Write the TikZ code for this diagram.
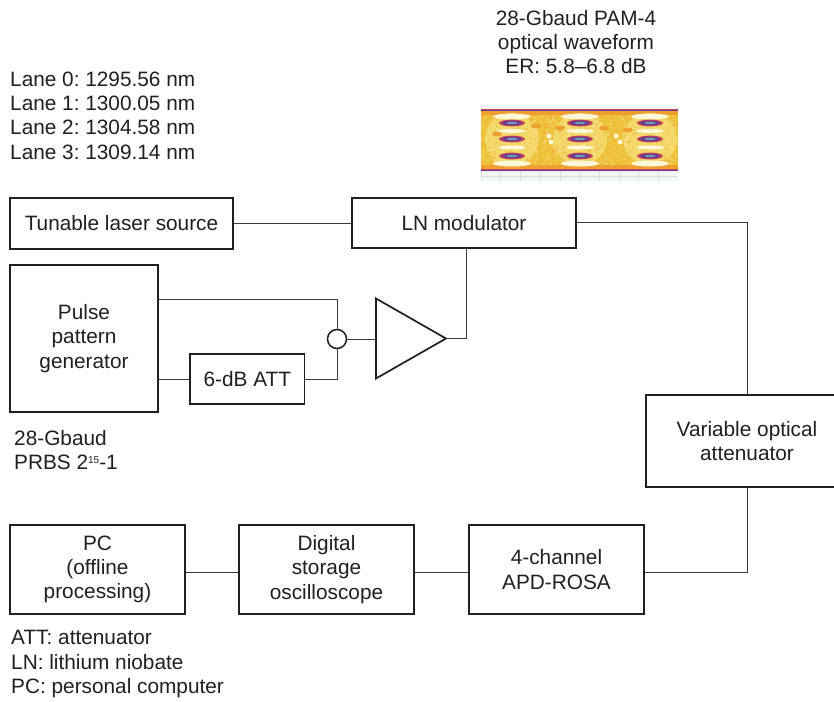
\documentclass[tikz,border=0pt]{standalone}
\usepackage{fontspec}
\setmainfont{Liberation Sans}
\usetikzlibrary{shapes.geometric}
\definecolor{ink}{HTML}{231F20}
\definecolor{wire}{HTML}{3C3C3C}
\definecolor{eyebase}{HTML}{EFC23C}
\definecolor{eyeedge}{HTML}{F0A030}
\definecolor{eyepale}{HTML}{F3D868}
\definecolor{eyewhite}{HTML}{FDF8D8}
\definecolor{eyered}{HTML}{C8405A}
\definecolor{eyeviolet}{HTML}{6C3C90}
\definecolor{eyecore}{HTML}{6C9CB0}
\definecolor{eyegrid}{HTML}{D8E2DC}
\definecolor{eyemint}{HTML}{F2F7F4}
\tikzset{
  box/.style={draw=ink,line width=1.7pt,fill=white,inner sep=0pt,align=center,text=ink},
  lbl/.style={inner sep=0pt,text=ink},
  wirel/.style={draw=wire,line width=1pt,line join=miter},
}
\begin{document}
\begin{tikzpicture}[x=1pt,y=-1pt,font=\frenchspacing\fontsize{20.8}{24.3}\selectfont]
\useasboundingbox (0,0) rectangle (834,701);
% eye diagram
\begin{scope}
\clip (481,106) rectangle (678,181);
\fill[eyemint] (481,106) rectangle (678,181);
\foreach \gx in {481,500.7,...,678} \draw[eyegrid,line width=.6pt] (\gx,171) -- (\gx,181);
\draw[eyegrid,line width=.6pt] (481,176) -- (678,176);
\fill[eyeedge] (481,110) rectangle (678,171);
\fill[eyebase] (481,115) rectangle (678,165);
\foreach \cx in {512,580,650}{
  \fill[eyepale] (\cx,139) ellipse (27 and 26);
}
\pgfmathsetseed{7}
\foreach \i in {1,...,450}{
  \pgfmathsetmacro{\rx}{481+197*rnd}
  \pgfmathsetmacro{\ry}{115+50*rnd}
  \fill[eyewhite,opacity=.3] (\rx,\ry) rectangle ++(1.6,1.6);
}
\foreach \i in {1,...,350}{
  \pgfmathsetmacro{\rx}{481+197*rnd}
  \pgfmathsetmacro{\ry}{113+54*rnd}
  \fill[eyeedge,opacity=.4] (\rx,\ry) rectangle ++(1.6,1.6);
}
\foreach \sx/\sy in {549/136,551/142,616/136,620/142}
  \fill[eyewhite] (\sx,\sy) circle (2.4);
\foreach \sx/\sy in {497/134,560/128,628/130,604/128,536/126}
  \fill[eyeedge] (\sx,\sy) ellipse (5 and 2.5);
\foreach \cx in {512,580,650}{
  \fill[eyewhite] (\cx,116.5) ellipse (19 and 2.8);
  \fill[eyewhite] (\cx,131) ellipse (14 and 2);
  \fill[eyewhite] (\cx,147.5) ellipse (14 and 2);
  \fill[eyewhite] (\cx,163.5) ellipse (19 and 3);
  \foreach \ey in {123,139,156}{
    \fill[eyered] (\cx,\ey) ellipse (13 and 3.4);
    \fill[eyeviolet] (\cx,\ey) ellipse (10 and 2.5);
    \fill[eyecore] (\cx,\ey) ellipse (5.5 and 1.2);
  }
}
\fill[eyeedge] (481,166.5) rectangle (678,169);
\fill[eyered] (481,109) rectangle (678,111.4);
\fill[eyeviolet] (481,109.6) rectangle (678,110.6);
\fill[eyered] (481,169) rectangle (678,171.2);
\fill[eyeviolet] (481,169.6) rectangle (678,170.5);
\end{scope}
% boxes
\node[box,minimum width=223,minimum height=51] (tls) at (121.5,223.5) {Tunable laser source};
\node[box,minimum width=224,minimum height=50] (lnm) at (464,223) {LN modulator};
\node[box,minimum width=148,minimum height=147] (ppg) at (84,338.5) {Pulse\\pattern\\generator};
\node[box,minimum width=114.5,minimum height=50] (att) at (247.3,379) {6-dB ATT};
\node[draw=ink,line width=1.5pt,circle,minimum size=19,inner sep=0pt,fill=white] (sum) at (337,339) {};
\node[draw=ink,line width=1.7pt,fill=white,isosceles triangle,isosceles triangle stretches,minimum height=70,minimum width=80,inner sep=0pt,outer sep=0pt,anchor=apex] (amp) at (446,338.5) {};
\node[box,minimum width=202,minimum height=92] (voa) at (747,441) {Variable optical\\attenuator};
\node[box,minimum width=175,minimum height=89] (pc) at (97.5,569.5) {PC\\(offline\\processing)};
\node[box,minimum width=175,minimum height=89] (dso) at (326.5,569.5) {Digital\\storage\\oscilloscope};
\node[box,minimum width=175,minimum height=89] (apd) at (556.5,569.5) {4-channel\\APD-ROSA};
% connectors
\coordinate (hi) at (337,299);
\coordinate (corner) at (747,222);
\coordinate (low) at (747,572);
\coordinate (up) at (466,338.5);
\draw[wirel] (tls.east) -- (tls.east -| lnm.west);
\draw[wirel] (lnm.east |- corner) -- (corner) -- (voa.north -| corner);
\draw[wirel] (voa.south -| low) -- (low) -- (apd.east |- low);
\draw[wirel] (ppg.east |- hi) -- (hi) -- (sum.north);
\draw[wirel] (ppg.east |- att.west) -- (att.west);
\draw[wirel] (att.east) -| (sum.south);
\draw[wirel] (sum.east) -- (sum.east -| amp.lower side);
\draw[wirel] (amp.apex) -- (up) -- (up |- lnm.south);
\draw[wirel] (apd.west |- low) -- (dso.east |- low);
\draw[wirel] (dso.west |- low) -- (pc.east |- low);
% labels
\node[lbl,anchor=west,align=left] (lanes) at (10,115.5) {Lane 0: 1295.56 nm\\Lane 1: 1300.05 nm\\Lane 2: 1304.58 nm\\Lane 3: 1309.14 nm};
\node[lbl,align=center] (eyetxt) at (576,42) {28-Gbaud PAM-4\\optical waveform\\ER: 5.8–6.8 dB};
\node[lbl,anchor=west,align=left] (prbs) at (14,450) {28-Gbaud\\PRBS 2\raisebox{6.5pt}{\fontsize{10}{10}\selectfont 15}-1};
\node[lbl,anchor=west,align=left] (legend) at (11,664) {ATT: attenuator\\LN: lithium niobate\\PC: personal computer};
\end{tikzpicture}
\end{document}
